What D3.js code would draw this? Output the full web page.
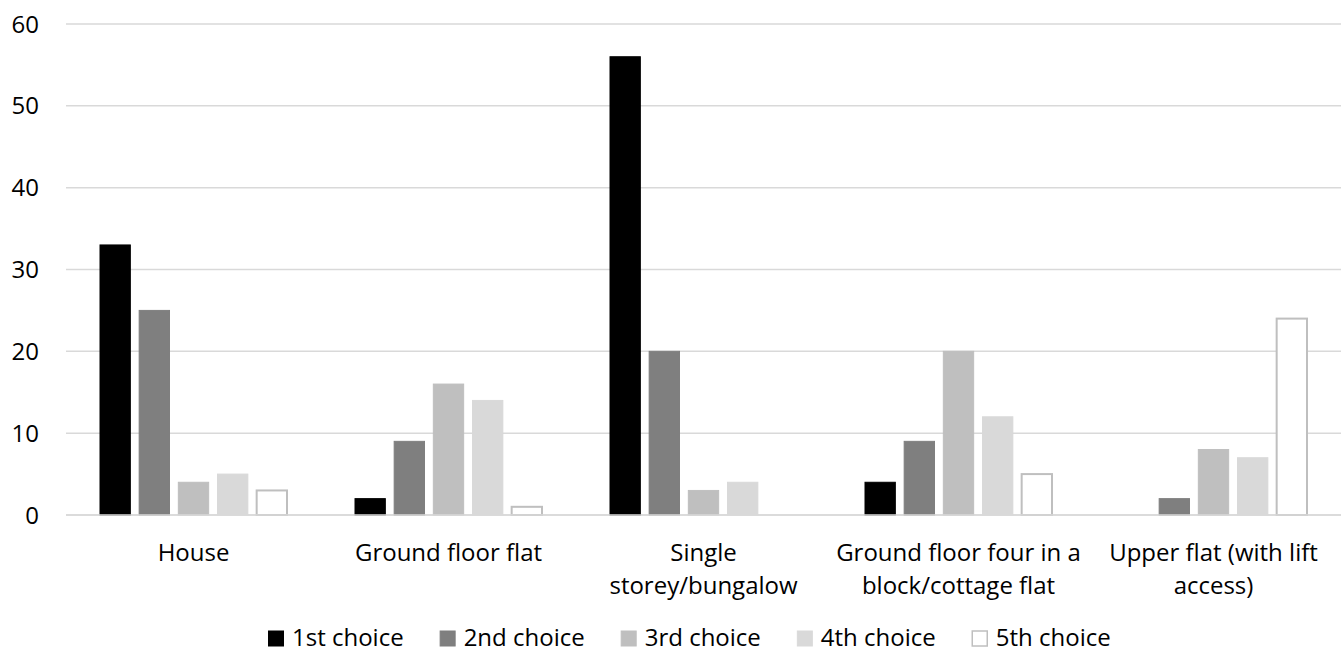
<!DOCTYPE html>
<html><head><meta charset="utf-8">
<script src="https://cdnjs.cloudflare.com/ajax/libs/d3/7.8.5/d3.min.js"></script>
<style>body{margin:0;background:#fff;}svg{display:block;}text{font-family:"Open Sans",sans-serif;fill:#000;}</style>
</head><body><svg id="c" width="1344" height="655"></svg>
<script>
const categories = ["House","Ground floor flat","Single storey/bungalow","Ground floor four in a block/cottage flat","Upper flat (with lift access)"];
const categoryLines = [["House"],["Ground floor flat"],["Single","storey/bungalow"],["Ground floor four in a","block/cottage flat"],["Upper flat (with lift","access)"]];
const seriesNames = ["1st choice","2nd choice","3rd choice","4th choice","5th choice"];
const choice1 = [33, 2, 56, 4, 0];
const choice2 = [25, 9, 20, 9, 2];
const choice3 = [4, 16, 3, 20, 8];
const choice4 = [5, 14, 4, 12, 7];
const choice5 = [3, 1, 0, 5, 24];
const yTicks = [0,10,20,30,40,50,60];
const seriesValues = [choice1, choice2, choice3, choice4, choice5];
const fills = ["#000000","#7f7f7f","#bfbfbf","#d9d9d9","#ffffff"];
const strokes = ["#000000","#7f7f7f","#bfbfbf","#d9d9d9","#bfbfbf"];

const FS = 24;
const svg = d3.select("#c");
const mLeft = 66, mRight = 1341, mTop = 24, mBottom = 515;
const y = d3.scaleLinear().domain([0,60]).range([mBottom, mTop]);
const x0 = d3.scaleBand().domain(categories).range([mLeft, mRight]).padding(0);
const inner = 188;
const x1 = d3.scaleBand().domain(seriesNames)
  .range([(x0.bandwidth()-inner)/2, (x0.bandwidth()+inner)/2]).paddingInner(0.2).paddingOuter(0);

// gridlines
svg.append("g").selectAll("line").data(yTicks).join("line")
  .attr("x1", mLeft).attr("x2", mRight)
  .attr("y1", d=>y(d)).attr("y2", d=>y(d))
  .attr("stroke", "#d9d9d9").attr("stroke-width", 1.5);

// y labels
svg.append("g").selectAll("text").data(yTicks).join("text")
  .attr("x", 39).attr("y", d=>y(d)).attr("dy","0.36em")
  .attr("text-anchor","end").attr("font-size", FS).text(d=>d);

// bars
const groups = svg.append("g").selectAll("g").data(categories).join("g")
  .attr("transform", c=>`translate(${x0(c)},0)`);
groups.selectAll("rect")
  .data((c,i)=>seriesNames.map((s,j)=>({s, j, v: seriesValues[j][i]})).filter(d=>d.v>0))
  .join("rect")
  .attr("x", d=>x1(d.s)+0.5).attr("width", x1.bandwidth()-1)
  .attr("y", d=>y(d.v)).attr("height", d=>y(0)-y(d.v))
  .attr("fill", d=>fills[d.j])
  .attr("stroke", d=>strokes[d.j]).attr("stroke-width", d=>d.j===4?2:1);

// baseline over bars
svg.append("line").attr("x1",mLeft).attr("x2",mRight).attr("y1",y(0)).attr("y2",y(0))
  .attr("stroke","#d9d9d9").attr("stroke-width",1.5);

// category labels
const lab = svg.append("g").selectAll("text").data(categories).join("text")
  .attr("text-anchor","middle").attr("font-size", FS)
  .attr("transform", c=>`translate(${x0(c)+x0.bandwidth()/2},561)`);
lab.selectAll("tspan").data((c,i)=>categoryLines[i]).join("tspan")
  .attr("x",0).attr("dy",(d,i)=>i===0?0:33).text(d=>d);

// legend (flowing layout)
const lgRoot = svg.append("g");
let lx = 268;
seriesNames.forEach((name,i)=>{
  const g = lgRoot.append("g").attr("transform",`translate(${lx},0)`);
  g.append("rect").attr("x",0.5).attr("y",631).attr("width",15).attr("height",15)
    .attr("fill",fills[i]).attr("stroke",strokes[i]).attr("stroke-width",i===4?1.5:1);
  const t = g.append("text").attr("x",24).attr("y",646).attr("font-size",FS).text(name);
  lx += 24 + t.node().getComputedTextLength() + 36;
});
</script></body></html>
